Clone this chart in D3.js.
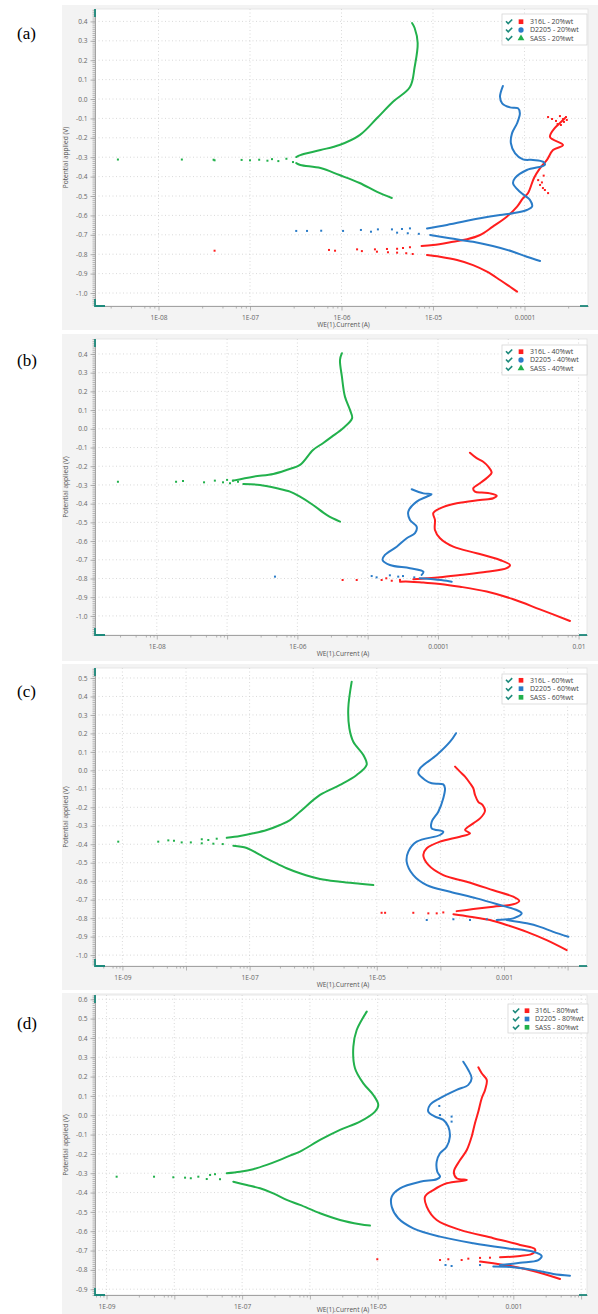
<!DOCTYPE html>
<html><head><meta charset="utf-8">
<script src="https://cdn.jsdelivr.net/npm/d3@7"></script>
<style>
html,body{margin:0;padding:0;background:#fff;}
svg{display:block;}
</style></head><body>
<script>
// Potentiodynamic polarisation curves (Tafel plots), potential vs log current
const alloys = ["316L", "D2205", "SASS"];
const concentrations = ["20%wt", "40%wt", "60%wt", "80%wt"];
const panelLetters = ["(a)", "(b)", "(c)", "(d)"];

// ---- tick values and labels ----
const aYTicks = [0.4,0.3,0.2,0.1,0.0,-0.1,-0.2,-0.3,-0.4,-0.5,-0.6,-0.7,-0.8,-0.9,-1.0];
const bYTicks = [0.4,0.3,0.2,0.1,0.0,-0.1,-0.2,-0.3,-0.4,-0.5,-0.6,-0.7,-0.8,-0.9,-1.0];
const cYTicks = [0.5,0.4,0.3,0.2,0.1,0.0,-0.1,-0.2,-0.3,-0.4,-0.5,-0.6,-0.7,-0.8,-0.9,-1.0];
const dYTicks = [0.6,0.5,0.4,0.3,0.2,0.1,0.0,-0.1,-0.2,-0.3,-0.4,-0.5,-0.6,-0.7,-0.8,-0.9];
const aXTicks = [1e-8,1e-7,1e-6,1e-5,1e-4];
const aXLabels = ["1E-08","1E-07","1E-06","1E-05","0.0001"];
const bXTicks = [1e-8,1e-6,1e-4,1e-2];
const bXLabels = ["1E-08","1E-06","0.0001","0.01"];
const cXTicks = [1e-9,1e-7,1e-5,1e-3];
const cXLabels = ["1E-09","1E-07","1E-05","0.001"];
const dXTicks = [1e-9,1e-7,1e-5,1e-3];
const dXLabels = ["1E-09","1E-07","1E-05","0.001"];

// ---- (a) 20%wt : [current (A), potential (V)] ----
const a316L_anodic = [[7.5e-6,-0.758],[1.0e-5,-0.753],[1.66e-5,-0.736],[2.36e-5,-0.723],[3.27e-5,-0.701],[4.5e-5,-0.658],[6.4e-5,-0.607],[8.3e-5,-0.555],[9.6e-5,-0.512],[1.09e-4,-0.486],[1.27e-4,-0.407],[1.48e-4,-0.356],[1.76e-4,-0.314],[2.05e-4,-0.263],[2.64e-4,-0.237],[1.9e-4,-0.196],[2.15e-4,-0.149],[2.44e-4,-0.124],[2.77e-4,-0.098]];
const a316L_cathodic = [[8.6e-6,-0.804],[1.19e-5,-0.813],[1.83e-5,-0.830],[2.74e-5,-0.856],[3.89e-5,-0.890],[5.4e-5,-0.933],[6.95e-5,-0.968],[8.3e-5,-0.993]];
const a316L_dots = [[4.1e-8,-0.782],[7.3e-7,-0.778],[8.5e-7,-0.782],[1.48e-6,-0.775],[1.67e-6,-0.784],[2.32e-6,-0.775],[2.44e-6,-0.787],[3.14e-6,-0.773],[3.22e-6,-0.790],[4.05e-6,-0.772],[4.05e-6,-0.792],[4.7e-6,-0.768],[5.1e-6,-0.795],[5.6e-6,-0.764],[6.0e-6,-0.799],
  [1.41e-4,-0.418],[1.48e-4,-0.443],[1.67e-4,-0.469],[1.81e-4,-0.485],[1.59e-4,-0.459],[1.55e-4,-0.430],[1.62e-4,-0.395],
  [1.81e-4,-0.093],[2.0e-4,-0.103],[2.21e-4,-0.113],[2.44e-4,-0.088],[2.64e-4,-0.103],[2.84e-4,-0.093],[2.3e-4,-0.129],[2.5e-4,-0.134],[2.7e-4,-0.118],[2.9e-4,-0.108]];
const a2205_anodic = [[8.6e-6,-0.667],[1.42e-5,-0.649],[3.27e-5,-0.615],[5.4e-5,-0.598],[7.5e-5,-0.589],[1.06e-4,-0.572],[1.21e-4,-0.555],[1.15e-4,-0.521],[8.9e-5,-0.478],[7.5e-5,-0.435],[7.9e-5,-0.407],[1.06e-4,-0.366],[1.67e-4,-0.340],[1.59e-4,-0.323],[1.24e-4,-0.314],[9.6e-5,-0.311],[7.9e-5,-0.280],[7.1e-5,-0.228],[7.3e-5,-0.177],[8.3e-5,-0.125],[8.9e-5,-0.074],[8.5e-5,-0.048],[6.95e-5,-0.043],[5.7e-5,-0.022],[5.4e-5,0.012],[5.8e-5,0.067]];
const a2205_cathodic = [[9.3e-6,-0.701],[1.53e-5,-0.718],[2.74e-5,-0.736],[4.5e-5,-0.758],[7.5e-5,-0.787],[1.06e-4,-0.813],[1.48e-4,-0.835]];
const a2205_dots = [[3.2e-7,-0.680],[4.2e-7,-0.680],[6.0e-7,-0.679],[1.04e-6,-0.680],[1.63e-6,-0.675],[2.1e-6,-0.684],[2.5e-6,-0.672],[3.56e-6,-0.672],[4.05e-6,-0.689],[4.58e-6,-0.670],[5.3e-6,-0.692],[5.6e-6,-0.667],[7.0e-6,-0.695]];
const aSASS_anodic = [[3.2e-7,-0.299],[3.55e-7,-0.289],[5.9e-7,-0.263],[9.5e-7,-0.237],[1.58e-6,-0.186],[2.45e-6,-0.098],[3.63e-6,-0.015],[5.6e-6,0.062],[6.3e-6,0.165],[6.8e-6,0.289],[6.3e-6,0.366],[5.9e-6,0.392]];
const aSASS_cathodic = [[3.2e-7,-0.330],[3.55e-7,-0.340],[5.9e-7,-0.356],[9.5e-7,-0.392],[1.58e-6,-0.433],[2.45e-6,-0.479],[3.55e-6,-0.510]];
const aSASS_dots = [[3.6e-9,-0.312],[1.8e-8,-0.312],[4.0e-8,-0.313],[4.1e-8,-0.316],[8.1e-8,-0.314],[1.0e-7,-0.316],[1.26e-7,-0.313],[1.55e-7,-0.318],[1.74e-7,-0.310],[2.04e-7,-0.320],[2.5e-7,-0.308],[2.95e-7,-0.325]];

// ---- (b) 40%wt ----
const b316L_anodic = [[2.85e-4,-0.128],[3.55e-4,-0.157],[4.4e-4,-0.176],[5.19e-4,-0.202],[5.8e-4,-0.234],[5.19e-4,-0.256],[3.95e-4,-0.291],[3.18e-4,-0.318],[3.36e-4,-0.336],[4.19e-4,-0.341],[5.5e-4,-0.345],[6.84e-4,-0.357],[6.12e-4,-0.371],[3.95e-4,-0.380],[1.85e-4,-0.398],[1.07e-4,-0.425],[8.57e-5,-0.451],[9.06e-5,-0.487],[9.06e-5,-0.541],[1.07e-4,-0.585],[1.65e-4,-0.630],[3.55e-4,-0.665],[7.62e-4,-0.701],[1.06e-3,-0.728],[9.48e-4,-0.745],[4.93e-4,-0.764],[2.06e-4,-0.781],[1.07e-4,-0.793],[6.9e-5,-0.799],[4.46e-5,-0.804]];
const b316L_cathodic = [[2.88e-5,-0.817],[4.0e-5,-0.817],[6.2e-5,-0.822],[1.07e-4,-0.829],[2.06e-4,-0.844],[4.93e-4,-0.870],[1.18e-3,-0.911],[2.82e-3,-0.965],[7.55e-3,-1.027]];
const b316L_dots = [[4.4e-6,-0.808],[6.98e-6,-0.808],[1.58e-5,-0.808],[1.84e-5,-0.799],[2.2e-5,-0.812],[2.88e-5,-0.808]];
const b2205_anodic = [[4.23e-5,-0.323],[6.2e-5,-0.345],[8.1e-5,-0.350],[6.9e-5,-0.363],[4.98e-5,-0.389],[3.78e-5,-0.443],[4.0e-5,-0.487],[4.98e-5,-0.523],[4.71e-5,-0.558],[3.59e-5,-0.585],[2.59e-5,-0.630],[1.76e-5,-0.674],[1.63e-5,-0.701],[2.07e-5,-0.728],[4.0e-5,-0.745],[6.2e-5,-0.764],[5.86e-5,-0.781]];
const b2205_cathodic = [[5.5e-5,-0.799],[8.5e-5,-0.804],[1.33e-4,-0.812],[1.57e-4,-0.817]];
const b2205_dots = [[4.8e-7,-0.790],[1.14e-5,-0.787],[1.34e-5,-0.794],[2.07e-5,-0.783],[2.72e-5,-0.790],[3.18e-5,-0.787],[4.6e-5,-0.794]];
const bSASS_anodic = [[1.21e-7,-0.277],[2.36e-7,-0.256],[4.54e-7,-0.241],[7.0e-7,-0.220],[1.09e-6,-0.193],[1.67e-6,-0.113],[2.31e-6,-0.077],[3.1e-6,-0.042],[4.46e-6,0.003],[6.0e-6,0.056],[5.6e-6,0.101],[4.75e-6,0.172],[4.3e-6,0.279],[4.04e-6,0.368],[4.3e-6,0.404]];
const bSASS_cathodic = [[1.7e-7,-0.295],[2.94e-7,-0.300],[5.1e-7,-0.318],[7.85e-7,-0.336],[1.09e-6,-0.363],[1.67e-6,-0.407],[2.64e-6,-0.461],[4.04e-6,-0.496]];
const bSASS_dots = [[2.8e-9,-0.283],[1.88e-8,-0.283],[2.36e-8,-0.279],[4.7e-8,-0.286],[6.7e-8,-0.277],[8.75e-8,-0.286],[1.0e-7,-0.273],[1.1e-7,-0.291],[1.21e-7,-0.277],[1.43e-7,-0.283]];

// ---- (c) 60%wt ----
const c316L_anodic = [[1.7e-4,0.020],[2.03e-4,-0.007],[2.44e-4,-0.034],[2.92e-4,-0.070],[3.29e-4,-0.097],[3.5e-4,-0.133],[3.94e-4,-0.170],[4.62e-4,-0.188],[5.02e-4,-0.220],[4.2e-4,-0.260],[3.29e-4,-0.287],[2.44e-4,-0.323],[2.92e-4,-0.341],[2.03e-4,-0.359],[9.86e-5,-0.386],[6.1e-5,-0.422],[5.38e-5,-0.458],[6.46e-5,-0.512],[1.11e-4,-0.567],[2.59e-4,-0.603],[6.79e-4,-0.649],[1.4e-3,-0.684],[1.74e-3,-0.707],[1.4e-3,-0.725],[6.79e-4,-0.738],[3.29e-4,-0.751],[1.8e-4,-0.762]];
const c316L_cathodic = [[1.6e-4,-0.779],[2.92e-4,-0.792],[6.03e-4,-0.810],[1.1e-3,-0.837],[2.28e-3,-0.874],[4.69e-3,-0.919],[9.68e-3,-0.973]];
const c316L_dots = [[1.11e-4,-0.769],[8.75e-5,-0.774],[6.46e-5,-0.774],[3.75e-5,-0.771],[1.35e-5,-0.771],[1.19e-5,-0.771]];
const c2205_anodic = [[1.76e-4,0.201],[1.42e-4,0.155],[8.75e-5,0.083],[4.78e-5,0.011],[4.5e-5,-0.016],[5.73e-5,-0.052],[7.3e-5,-0.070],[1.11e-4,-0.076],[1.18e-4,-0.097],[1.11e-4,-0.151],[9.27e-5,-0.224],[7.3e-5,-0.278],[7.3e-5,-0.314],[1.11e-4,-0.332],[9.86e-5,-0.350],[4.24e-5,-0.386],[3.13e-5,-0.440],[2.95e-5,-0.495],[3.75e-5,-0.567],[6.1e-5,-0.621],[1.42e-4,-0.657],[3.72e-4,-0.693],[8.65e-4,-0.729],[1.58e-3,-0.756],[1.9e-3,-0.774],[1.4e-3,-0.801],[7.67e-4,-0.810]];
const c2205_cathodic = [[1.1e-3,-0.810],[2.28e-3,-0.828],[3.68e-3,-0.847],[5.96e-3,-0.874],[1.03e-2,-0.901]];
const c2205_dots = [[5.35e-4,-0.806],[2.92e-4,-0.810],[1.6e-4,-0.806],[6.1e-5,-0.810]];
const cSASS_anodic = [[4.37e-8,-0.365],[7.06e-8,-0.355],[1.14e-7,-0.341],[1.86e-7,-0.323],[3.01e-7,-0.296],[4.32e-7,-0.269],[6.19e-7,-0.224],[1.28e-6,-0.133],[2.64e-6,-0.079],[4.83e-6,-0.025],[6.93e-6,0.030],[6.14e-6,0.083],[4.27e-6,0.155],[3.7e-6,0.228],[3.56e-6,0.336],[4.03e-6,0.480]];
const cSASS_cathodic = [[5.55e-8,-0.408],[9.0e-8,-0.420],[1.46e-7,-0.458],[2.36e-7,-0.495],[3.83e-7,-0.530],[6.19e-7,-0.557],[1.28e-6,-0.588],[2.64e-6,-0.603],[5.44e-6,-0.614],[8.81e-6,-0.621]];
const cSASS_dots = [[8.6e-10,-0.386],[3.66e-9,-0.386],[5.27e-9,-0.379],[6.47e-9,-0.381],[8.55e-9,-0.390],[1.19e-8,-0.390],[1.77e-8,-0.373],[1.77e-8,-0.395],[2.24e-8,-0.377],[2.69e-8,-0.397],[3.04e-8,-0.370],[3.78e-8,-0.399]];

// ---- (d) 80%wt ----
const d316L_anodic = [[3.05e-4,0.248],[3.42e-4,0.217],[4.06e-4,0.182],[3.83e-4,0.131],[3.42e-4,0.088],[3.05e-4,0.019],[2.72e-4,-0.041],[2.43e-4,-0.111],[2.06e-4,-0.180],[1.64e-4,-0.232],[1.33e-4,-0.292],[1.46e-4,-0.326],[2.06e-4,-0.335],[1.04e-4,-0.352],[6.61e-5,-0.387],[4.99e-5,-0.421],[5.28e-5,-0.473],[7.41e-5,-0.542],[1.64e-4,-0.593],[5.07e-4,-0.636],[1.26e-3,-0.671],[2.09e-3,-0.693],[1.97e-3,-0.714],[1.26e-3,-0.728],[6.37e-4,-0.735]];
const d316L_cathodic = [[3.23e-4,-0.757],[5.07e-4,-0.766],[1.0e-3,-0.783],[1.97e-3,-0.806],[4.89e-3,-0.847]];
const d316L_dots = [[4.53e-4,-0.737],[3.23e-4,-0.738],[2.17e-4,-0.742],[1.73e-4,-0.749],[1.1e-4,-0.745],[8.3e-5,-0.749],[9.86e-6,-0.745]];
const d2205_anodic = [[1.83e-4,0.277],[2.17e-4,0.234],[2.43e-4,0.191],[2.17e-4,0.157],[1.46e-4,0.131],[8.3e-5,0.088],[5.9e-5,0.053],[5.57e-5,0.019],[7.0e-5,-0.007],[9.29e-5,-0.024],[1.1e-4,-0.059],[1.16e-4,-0.111],[1.04e-4,-0.163],[8.3e-5,-0.197],[7.41e-5,-0.240],[7.57e-5,-0.292],[8.3e-5,-0.318],[7.41e-5,-0.331],[4.21e-5,-0.344],[2.13e-5,-0.378],[1.61e-5,-0.421],[1.61e-5,-0.473],[2.01e-5,-0.533],[3.35e-5,-0.585],[8.3e-5,-0.628],[2.57e-4,-0.662],[8.0e-4,-0.688],[1.97e-3,-0.706],[2.62e-3,-0.728],[2.34e-3,-0.749],[1.26e-3,-0.763],[6.37e-4,-0.775]];
const d2205_cathodic = [[5.07e-4,-0.783],[1.0e-3,-0.786],[1.97e-3,-0.800],[3.89e-3,-0.821],[6.85e-3,-0.830]];
const d2205_dots = [[3.23e-4,-0.775],[1.23e-4,-0.780],[1.0e-4,-0.775],[8.1e-5,0.048],[8.3e-5,0.001],[1.23e-4,-0.007],[1.23e-4,-0.033]];
const dSASS_anodic = [[5.93e-8,-0.300],[9.31e-8,-0.292],[1.46e-7,-0.279],[2.31e-7,-0.257],[3.62e-7,-0.231],[5.08e-7,-0.209],[7.14e-7,-0.188],[1.41e-6,-0.128],[2.78e-6,-0.076],[5.48e-6,-0.033],[9.12e-6,0.019],[1.02e-5,0.053],[8.61e-6,0.105],[6.14e-6,0.165],[4.62e-6,0.243],[4.37e-6,0.355],[4.9e-6,0.441],[6.89e-6,0.536]];
const dSASS_cathodic = [[7.41e-8,-0.344],[1.17e-7,-0.361],[1.84e-7,-0.378],[2.88e-7,-0.404],[4.55e-7,-0.438],[7.14e-7,-0.464],[1.41e-6,-0.507],[2.78e-6,-0.542],[5.48e-6,-0.564],[7.69e-6,-0.571]];
const dSASS_dots = [[1.41e-9,-0.318],[5.02e-9,-0.318],[9.66e-9,-0.321],[1.44e-8,-0.323],[1.75e-8,-0.326],[2.26e-8,-0.318],[3.01e-8,-0.330],[3.37e-8,-0.309],[3.98e-8,-0.305],[4.72e-8,-0.331]];

// ---- styling and layout ----
const seriesColors = ["#ff1e1e", "#2a7cc8", "#22b14c"];
const teal = "#1d8a7c";
const W = 598, H = 1314;

const panels = [
  { yTicks: aYTicks, xTicks: aXTicks, xLabels: aXLabels, series: [[a316L_anodic,a316L_cathodic,a316L_dots],[a2205_anodic,a2205_cathodic,a2205_dots],[aSASS_anodic,aSASS_cathodic,aSASS_dots]],
    bg: [5, 330], top: 9, bottom: 306, left: 95, right: 588, yDom: [-1.067, 0.464], xExp: [-8.694, -3.306], titleDy: 21,
    legend: { x: 502, y: 14, w: 85, h: 31, rows: [21.7, 30, 38.3], cx: 509, sx: 521, tx: 530 }, symbols: [d3.symbolSquare, d3.symbolCircle, d3.symbolTriangle], letterY: 39 },
  { yTicks: bYTicks, xTicks: bXTicks, xLabels: bXLabels, series: [[b316L_anodic,b316L_cathodic,b316L_dots],[b2205_anodic,b2205_cathodic,b2205_dots],[bSASS_anodic,bSASS_cathodic,bSASS_dots]],
    bg: [334, 661], top: 339, bottom: 635, left: 95, right: 587, yDom: [-1.102, 0.480], xExp: [-8.879, -1.880], titleDy: 21,
    legend: { x: 502, y: 345, w: 85, h: 30, rows: [351.7, 360, 368.3], cx: 509, sx: 521, tx: 530 }, symbols: [d3.symbolSquare, d3.symbolCircle, d3.symbolTriangle], letterY: 366 },
  { yTicks: cYTicks, xTicks: cXTicks, xLabels: cXLabels, series: [[c316L_anodic,c316L_cathodic,c316L_dots],[c2205_anodic,c2205_cathodic,c2205_dots],[cSASS_anodic,cSASS_cathodic,cSASS_dots]],
    bg: [664, 990], top: 668, bottom: 966, left: 95, right: 587, yDom: [-1.059, 0.554], xExp: [-9.431, -1.695], titleDy: 21,
    legend: { x: 502, y: 674, w: 85, h: 30, rows: [680.3, 688.7, 697.3], cx: 509, sx: 521, tx: 530 }, symbols: [d3.symbolSquare, d3.symbolSquare, d3.symbolSquare], letterY: 697 },
  { yTicks: dYTicks, xTicks: dXTicks, xLabels: dXLabels, series: [[d316L_anodic,d316L_cathodic,d316L_dots],[d2205_anodic,d2205_cathodic,d2205_dots],[dSASS_anodic,dSASS_cathodic,dSASS_dots]],
    bg: [993, 1314], top: 995, bottom: 1295, left: 95, right: 587, yDom: [-0.930, 0.622], xExp: [-9.170, -1.913], titleDy: 17,
    legend: { x: 508, y: 1004, w: 80, h: 29, rows: [1010.7, 1019, 1027.3], cx: 516, sx: 527, tx: 535 }, symbols: [d3.symbolSquare, d3.symbolSquare, d3.symbolSquare], letterY: 1029 }
];

const svg = d3.select("body").append("svg").attr("width", W).attr("height", H);
const uiFont = "'Open Sans','Noto Sans',sans-serif";

panels.forEach((p, pi) => {
  const g = svg.append("g");
  // grey panel background and white plotting area
  g.append("rect").attr("x", 62).attr("y", p.bg[0]).attr("width", W - 62).attr("height", p.bg[1] - p.bg[0]).attr("fill", "#f3f3f3");
  g.append("rect").attr("x", p.left).attr("y", p.top).attr("width", p.right - p.left).attr("height", p.bottom - p.top)
    .attr("fill", "#fff").attr("stroke", "#e1e1e1").attr("stroke-width", 0.8);

  const x = d3.scaleLog().domain([Math.pow(10, p.xExp[0]), Math.pow(10, p.xExp[1])]).range([p.left, p.right]);
  const y = d3.scaleLinear().domain(p.yDom).range([p.bottom, p.top]);

  // decades and minor ticks
  const decades = d3.range(Math.ceil(p.xExp[0]), Math.floor(p.xExp[1]) + 1).map(e => Math.pow(10, e));
  const minorX = [];
  d3.range(Math.floor(p.xExp[0]), Math.ceil(p.xExp[1])).forEach(e => {
    [3, 5, 7, 8, 9].forEach(m => { const v = m * Math.pow(10, e); if (v > x.domain()[0] && v < x.domain()[1]) minorX.push(v); });
  });
  const minorY = d3.range(Math.ceil(p.yDom[0] * 100), Math.floor(p.yDom[1] * 100) + 1).map(v => v / 100);

  // dotted grid
  g.append("g").selectAll("line").data(decades).join("line")
    .attr("x1", d => x(d)).attr("x2", d => x(d)).attr("y1", p.top).attr("y2", p.bottom)
    .attr("stroke", "#cfcfcf").attr("stroke-width", 0.8).attr("stroke-dasharray", "1,2.5");
  g.append("g").selectAll("line").data(p.yTicks).join("line")
    .attr("x1", p.left).attr("x2", p.right).attr("y1", d => y(d)).attr("y2", d => y(d))
    .attr("stroke", "#cfcfcf").attr("stroke-width", 0.8).attr("stroke-dasharray", "1,2.5");

  const styleAxis = sel => {
    sel.select(".domain").attr("stroke", "#a0a0a0").attr("stroke-width", 0.8);
    sel.selectAll(".tick line").attr("stroke", "#9a9a9a").attr("stroke-width", 0.7);
    sel.selectAll("text").attr("fill", "#666").attr("font-size", 6.6).attr("font-family", uiFont);
  };

  // y axis: major labelled ticks + 0.01 V minor ticks
  g.append("g").attr("transform", `translate(${p.left},0)`)
    .call(d3.axisLeft(y).tickValues(minorY).tickFormat("").tickSize(2.5).tickSizeOuter(0)).call(styleAxis);
  g.append("g").attr("transform", `translate(${p.left},0)`)
    .call(d3.axisLeft(y).tickValues(p.yTicks).tickFormat(d => d.toFixed(1)).tickSize(4.5).tickPadding(3).tickSizeOuter(0)).call(styleAxis);

  // x axis: decade ticks (some labelled) + minor ticks
  const labelOf = d => { const i = p.xTicks.findIndex(t => Math.abs(Math.log10(t) - Math.log10(d)) < 1e-6); return i >= 0 ? p.xLabels[i] : ""; };
  g.append("g").attr("transform", `translate(0,${p.bottom})`)
    .call(d3.axisBottom(x).tickValues(minorX).tickFormat("").tickSize(2.5).tickSizeOuter(0)).call(styleAxis);
  g.append("g").attr("transform", `translate(0,${p.bottom})`)
    .call(d3.axisBottom(x).tickValues(decades).tickFormat(labelOf).tickSize(4.5).tickPadding(5).tickSizeOuter(0)).call(styleAxis);

  // axis titles
  g.append("text").attr("transform", `translate(68,${(p.top + p.bottom) / 2}) rotate(-90)`).attr("text-anchor", "middle")
    .attr("font-family", uiFont).attr("font-size", 6.6).attr("fill", "#555").text("Potential applied (V)");
  g.append("text").attr("x", (p.left + p.right) / 2 + 2).attr("y", p.bottom + p.titleDy).attr("text-anchor", "middle")
    .attr("font-family", uiFont).attr("font-size", 6.6).attr("fill", "#555").text("WE(1).Current (A)");

  // teal range handles on the axes
  const handle = d => g.append("path").attr("d", d).attr("stroke", teal).attr("stroke-width", 1.8).attr("fill", "none");
  handle(`M${p.left},${p.top} V${p.top + 8}`);
  handle(`M${p.left},${p.bottom - 7} V${p.bottom} H${p.left + 10}`);
  handle(`M${p.right - 8},${p.bottom} H${p.right}`);

  // clipped curves
  const clipId = "clip" + pi;
  svg.append("clipPath").attr("id", clipId).append("rect")
    .attr("x", p.left).attr("y", p.top).attr("width", p.right - p.left).attr("height", p.bottom - p.top);
  const plot = g.append("g").attr("clip-path", `url(#${clipId})`);
  const line = d3.line().x(d => x(d[0])).y(d => y(d[1])).curve(d3.curveCatmullRom.alpha(0.5));

  p.series.forEach((s, si) => {
    const col = seriesColors[si];
    const sg = plot.append("g");
    [s[0], s[1]].forEach(branch => {
      sg.append("path").datum(branch).attr("d", line).attr("fill", "none").attr("stroke", col)
        .attr("stroke-width", 2).attr("stroke-linejoin", "round").attr("stroke-linecap", "round");
    });
    sg.selectAll("rect.dot").data(s[2]).join("rect").attr("class", "dot")
      .attr("x", d => x(d[0]) - 1).attr("y", d => y(d[1]) - 1).attr("width", 2).attr("height", 2).attr("fill", col);
  });

  // legend
  const L = p.legend;
  const lg = g.append("g");
  lg.append("rect").attr("x", L.x).attr("y", L.y).attr("width", L.w).attr("height", L.h)
    .attr("fill", "#fff").attr("stroke", "#d6d6d6").attr("stroke-width", 0.8);
  alloys.forEach((name, i) => {
    const ry = L.rows[i];
    lg.append("path").attr("d", `M${L.cx - 3},${ry - 0.5} L${L.cx - 0.8},${ry + 1.8} L${L.cx + 3.2},${ry - 2.2}`)
      .attr("fill", "none").attr("stroke", teal).attr("stroke-width", 1.6);
    lg.append("path").attr("d", d3.symbol().type(p.symbols[i]).size(p.symbols[i] === d3.symbolTriangle ? 20 : 22)())
      .attr("transform", `translate(${L.sx},${ry})`).attr("fill", seriesColors[i]);
    lg.append("text").attr("x", L.tx).attr("y", ry + 2.4).attr("font-family", uiFont).attr("font-size", 7)
      .attr("fill", "#444").text(`${name} - ${concentrations[pi]}`);
  });

  // panel letter
  svg.append("text").attr("x", 17).attr("y", p.letterY).attr("font-family", "'Liberation Serif','Times New Roman',serif")
    .attr("font-size", 17).attr("fill", "#000").text(panelLetters[pi]);
});
</script>
</body></html>
